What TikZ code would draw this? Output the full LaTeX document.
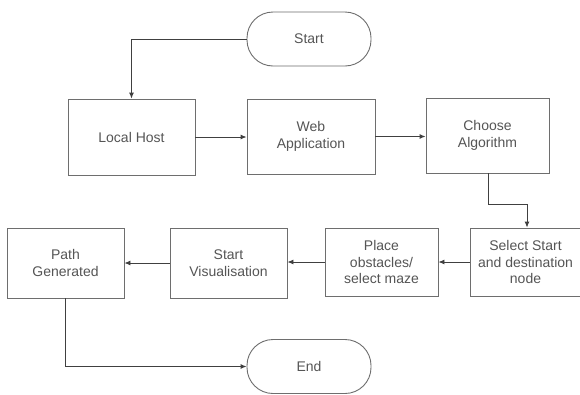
\documentclass[tikz,border=0pt]{standalone}
\usepackage{fontspec}
\setmainfont{Liberation Sans}
\usetikzlibrary{arrows.meta}
\definecolor{linegray}{HTML}{6E6E6E}
\definecolor{textgray}{HTML}{555555}
\begin{document}
\begin{tikzpicture}[x=1pt,y=-1pt,
  boxnode/.style={draw=linegray, line width=0.9pt, fill=white, text=textgray,
    align=center, inner sep=0pt, font=\fontsize{14}{16.5}\selectfont},
  termnode/.style={boxnode, minimum width=124pt, minimum height=54pt, rounded corners=26pt},
  conn/.style={draw=black!75, line width=0.9pt, -{Latex[length=6pt,width=5pt]}}]
\useasboundingbox (0,0) rectangle (580,394);
\fill[white] (0,0) rectangle (580,394);
\node[termnode] (start) at (309,39) {Start};
\node[boxnode, minimum width=127pt, minimum height=76pt] (local) at (131.5,137) {Local Host};
\node[boxnode, minimum width=128pt, minimum height=75pt] (web) at (311,136.5) {Web\\Application};
\node[boxnode, minimum width=123pt, minimum height=75pt] (choose) at (487.5,135.5) {Choose\\Algorithm};
\node[boxnode, minimum width=111pt, minimum height=68pt] (select) at (525.5,262) {Select Start\\and destination\\node};
\node[boxnode, minimum width=113pt, minimum height=68pt] (place) at (381.5,262) {Place\\obstacles/\\select maze};
\node[boxnode, minimum width=117pt, minimum height=70pt] (vis) at (228.5,263) {Start\\Visualisation};
\node[boxnode, minimum width=117pt, minimum height=70pt] (path) at (65.5,263) {Path\\Generated};
\node[termnode] (end) at (309,366.5) {End};
\coordinate (c1) at (488,204);
\coordinate (c2) at (527,204);
\draw[conn] (start.west) -| (local.north);
\draw[conn] (local.east) -- (web.west |- local.east);
\draw[conn] (web.east) -- (choose.west |- web.east);
\draw[conn] (choose.south -| c1) -- (c1) -- (c2) -- (c2 |- select.north);
\draw[conn] (select.west) -- (place.east |- select.west);
\draw[conn] (place.west) -- (vis.east |- place.west);
\draw[conn] (vis.west) -- (path.east |- vis.west);
\draw[conn] (path.south) |- (end.west);
\end{tikzpicture}
\end{document}
